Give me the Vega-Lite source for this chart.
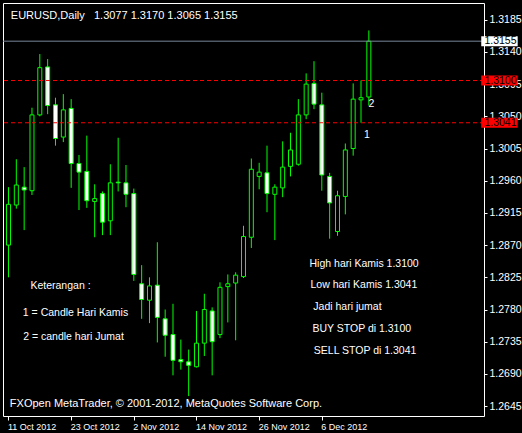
{
  "$schema": "https://vega.github.io/schema/vega-lite/v6.json",
  "width": 481,
  "height": 413,
  "autosize": "none",
  "padding": {"left": 3, "top": 3, "right": 38, "bottom": 17},
  "background": "#000000",
  "config": {
    "view": {"stroke": "#ffffff", "strokeWidth": 1},
    "axis": {
      "labelColor": "#ffffff",
      "tickColor": "#ffffff",
      "labelFont": "Liberation Sans Narrow, Liberation Sans, sans-serif",
      "labelFontSize": 10.5,
      "labelOverlap": false,
      "labelFlush": false,
      "labelBound": false,
      "domain": false,
      "grid": false,
      "title": null,
      "zindex": 0
    }
  },
  "datasets": {
    "candles": [
      {"bar": 0, "date": "2012-10-11", "open": 1.2870, "high": 1.2951, "low": 1.2825, "close": 1.2927},
      {"bar": 1, "date": "2012-10-12", "open": 1.2926, "high": 1.2990, "low": 1.2921, "close": 1.2954},
      {"bar": 2, "date": "2012-10-15", "open": 1.2951, "high": 1.2979, "low": 1.2891, "close": 1.2947},
      {"bar": 3, "date": "2012-10-16", "open": 1.2946, "high": 1.3062, "low": 1.2940, "close": 1.3052},
      {"bar": 4, "date": "2012-10-17", "open": 1.3052, "high": 1.3137, "low": 1.3050, "close": 1.3118},
      {"bar": 5, "date": "2012-10-18", "open": 1.3119, "high": 1.3130, "low": 1.3053, "close": 1.3065},
      {"bar": 6, "date": "2012-10-19", "open": 1.3066, "high": 1.3076, "low": 1.3009, "close": 1.3019},
      {"bar": 7, "date": "2012-10-22", "open": 1.3021, "high": 1.3081, "low": 1.3014, "close": 1.3059},
      {"bar": 8, "date": "2012-10-23", "open": 1.3061, "high": 1.3074, "low": 1.2950, "close": 1.2984},
      {"bar": 9, "date": "2012-10-24", "open": 1.2984, "high": 1.2996, "low": 1.2919, "close": 1.2972},
      {"bar": 10, "date": "2012-10-25", "open": 1.2973, "high": 1.3023, "low": 1.2922, "close": 1.2932},
      {"bar": 11, "date": "2012-10-26", "open": 1.2931, "high": 1.2955, "low": 1.2881, "close": 1.2935},
      {"bar": 12, "date": "2012-10-29", "open": 1.2942, "high": 1.2945, "low": 1.2884, "close": 1.2902},
      {"bar": 13, "date": "2012-10-30", "open": 1.2904, "high": 1.2983, "low": 1.2884, "close": 1.2957},
      {"bar": 14, "date": "2012-10-31", "open": 1.2958, "high": 1.3020, "low": 1.2945, "close": 1.2957},
      {"bar": 15, "date": "2012-11-01", "open": 1.2957, "high": 1.2982, "low": 1.2923, "close": 1.2941},
      {"bar": 16, "date": "2012-11-02", "open": 1.2942, "high": 1.2949, "low": 1.2820, "close": 1.2829},
      {"bar": 17, "date": "2012-11-05", "open": 1.2816, "high": 1.2842, "low": 1.2767, "close": 1.2794},
      {"bar": 18, "date": "2012-11-06", "open": 1.2793, "high": 1.2825, "low": 1.2761, "close": 1.2813},
      {"bar": 19, "date": "2012-11-07", "open": 1.2814, "high": 1.2874, "low": 1.2734, "close": 1.2769},
      {"bar": 20, "date": "2012-11-08", "open": 1.2767, "high": 1.2780, "low": 1.2714, "close": 1.2744},
      {"bar": 21, "date": "2012-11-09", "open": 1.2745, "high": 1.2788, "low": 1.2688, "close": 1.2709},
      {"bar": 22, "date": "2012-11-12", "open": 1.2710, "high": 1.2738, "low": 1.2696, "close": 1.2707},
      {"bar": 23, "date": "2012-11-13", "open": 1.2707, "high": 1.2724, "low": 1.2659, "close": 1.2702},
      {"bar": 24, "date": "2012-11-14", "open": 1.2700, "high": 1.2778, "low": 1.2699, "close": 1.2733},
      {"bar": 25, "date": "2012-11-15", "open": 1.2733, "high": 1.2802, "low": 1.2715, "close": 1.2780},
      {"bar": 26, "date": "2012-11-16", "open": 1.2778, "high": 1.2783, "low": 1.2688, "close": 1.2735},
      {"bar": 27, "date": "2012-11-19", "open": 1.2745, "high": 1.2818, "low": 1.2740, "close": 1.2811},
      {"bar": 28, "date": "2012-11-20", "open": 1.2812, "high": 1.2829, "low": 1.2762, "close": 1.2816},
      {"bar": 29, "date": "2012-11-21", "open": 1.2817, "high": 1.2832, "low": 1.2737, "close": 1.2828},
      {"bar": 30, "date": "2012-11-22", "open": 1.2826, "high": 1.2897, "low": 1.2824, "close": 1.2882},
      {"bar": 31, "date": "2012-11-23", "open": 1.2881, "high": 1.2991, "low": 1.2866, "close": 1.2976},
      {"bar": 32, "date": "2012-11-26", "open": 1.2966, "high": 1.2985, "low": 1.2948, "close": 1.2972},
      {"bar": 33, "date": "2012-11-27", "open": 1.2971, "high": 1.3009, "low": 1.2916, "close": 1.2942},
      {"bar": 34, "date": "2012-11-28", "open": 1.2941, "high": 1.2955, "low": 1.2877, "close": 1.2951},
      {"bar": 35, "date": "2012-11-29", "open": 1.2950, "high": 1.3015, "low": 1.2937, "close": 1.2979},
      {"bar": 36, "date": "2012-11-30", "open": 1.2980, "high": 1.3027, "low": 1.2966, "close": 1.3003},
      {"bar": 37, "date": "2012-12-03", "open": 1.2983, "high": 1.3074, "low": 1.2981, "close": 1.3052},
      {"bar": 38, "date": "2012-12-04", "open": 1.3052, "high": 1.3110, "low": 1.3046, "close": 1.3095},
      {"bar": 39, "date": "2012-12-05", "open": 1.3096, "high": 1.3127, "low": 1.3060, "close": 1.3067},
      {"bar": 40, "date": "2012-12-06", "open": 1.3066, "high": 1.3083, "low": 1.2946, "close": 1.2968},
      {"bar": 41, "date": "2012-12-07", "open": 1.2966, "high": 1.2971, "low": 1.2879, "close": 1.2929},
      {"bar": 42, "date": "2012-12-10", "open": 1.2889, "high": 1.2946, "low": 1.2883, "close": 1.2939},
      {"bar": 43, "date": "2012-12-11", "open": 1.2938, "high": 1.3012, "low": 1.2913, "close": 1.3003},
      {"bar": 44, "date": "2012-12-12", "open": 1.3005, "high": 1.3096, "low": 1.2995, "close": 1.3074},
      {"bar": 45, "date": "2012-12-13", "open": 1.3073, "high": 1.3100, "low": 1.3041, "close": 1.3076},
      {"bar": 46, "date": "2012-12-14", "open": 1.3077, "high": 1.3170, "low": 1.3065, "close": 1.3155}
    ],
    "levels": [
      {"price": 1.3155, "label": "1.3155", "kind": "bid"},
      {"price": 1.3100, "label": "1.3100", "kind": "hline"},
      {"price": 1.3041, "label": "1.3041", "kind": "hline"}
    ],
    "notes": [
      {"text": "Keterangan :", "bar": 2.8, "price": 1.28086},
      {"text": "1 = Candle Hari Kamis", "bar": 1.83, "price": 1.27714},
      {"text": "2 = candle hari Jumat", "bar": 1.875, "price": 1.27373},
      {"text": "High hari Kamis 1.3100", "bar": 38.43, "price": 1.28396},
      {"text": "Low hari Kamis 1.3041", "bar": 38.55, "price": 1.28100},
      {"text": "Jadi hari jumat", "bar": 38.91, "price": 1.27790},
      {"text": "BUY STOP di 1.3100", "bar": 38.8, "price": 1.27486},
      {"text": "SELL STOP di 1.3041", "bar": 38.98, "price": 1.27177},
      {"text": "1", "bar": 45.38, "price": 1.30200},
      {"text": "2", "bar": 45.96, "price": 1.30632}
    ]
  },
  "layer": [
    {
      "data": {"name": "candles"},
      "mark": {"type": "rule", "color": "#00ff00", "strokeWidth": 1, "clip": true},
      "encoding": {
        "x": {
          "field": "bar",
          "type": "quantitative",
          "scale": {"domain": [-0.0625, 60.0625], "nice": false, "zero": false},
          "axis": {
            "orient": "bottom",
            "values": [0, 8, 16, 24, 32, 40],
            "tickCount": 60,
            "labelExpr": "['11 Oct 2012', '23 Oct 2012', '2 Nov 2012', '14 Nov 2012', '26 Nov 2012', '6 Dec 2012'][round(datum.value / 8)]",
            "labelFont": "Liberation Sans, Arial, sans-serif",
            "labelFontSize": 9,
            "labelAlign": "left",
            "labelBaseline": "top",
            "labelOffset": -1,
            "labelPadding": 2,
            "tickSize": 4
          }
        },
        "y": {
          "field": "low",
          "type": "quantitative",
          "scale": {"domain": [1.263818, 1.320136], "nice": false, "zero": false},
          "axis": {
            "orient": "right",
            "values": [1.2645, 1.269, 1.2735, 1.278, 1.2825, 1.287, 1.2915, 1.296, 1.3005, 1.305, 1.3095, 1.314, 1.3185],
            "tickCount": 40,
            "format": ".4f",
            "tickSize": 3,
            "labelPadding": 2
          }
        },
        "y2": {"field": "high"}
      }
    },
    {
      "data": {"name": "candles"},
      "mark": {"type": "bar", "size": 4, "stroke": "#00ff00", "strokeWidth": 1, "clip": true},
      "encoding": {
        "x": {"field": "bar", "type": "quantitative"},
        "y": {"field": "open", "type": "quantitative"},
        "y2": {"field": "close"},
        "fill": {"condition": {"test": "datum.close < datum.open", "value": "#ffffff"}, "value": "#000000"}
      }
    },
    {
      "data": {"name": "levels"},
      "transform": [{"filter": "datum.kind == 'bid'"}],
      "mark": {"type": "rule", "color": "#778899", "strokeWidth": 1},
      "encoding": {"y": {"field": "price", "type": "quantitative"}}
    },
    {
      "data": {"name": "levels"},
      "transform": [{"filter": "datum.kind == 'hline'"}],
      "mark": {"type": "rule", "color": "#ff0000", "strokeWidth": 1, "strokeDash": [4, 3]},
      "encoding": {"y": {"field": "price", "type": "quantitative"}}
    },
    {
      "data": {"name": "levels"},
      "mark": {"type": "bar", "orient": "horizontal", "size": 10},
      "encoding": {
        "x": {"datum": 60.35},
        "x2": {"datum": 65},
        "y": {"field": "price", "type": "quantitative"},
        "fill": {"condition": {"test": "datum.kind == 'bid'", "value": "#ffffff"}, "value": "#ff0000"}
      }
    },
    {
      "data": {"name": "levels"},
      "mark": {
        "type": "text",
        "align": "left",
        "baseline": "middle",
        "color": "#000000",
        "font": "Liberation Sans Narrow, Liberation Sans, sans-serif",
        "fontSize": 10.5
      },
      "encoding": {
        "x": {"datum": 60.75},
        "y": {"field": "price", "type": "quantitative"},
        "text": {"field": "label"}
      }
    },
    {
      "data": {"name": "notes"},
      "mark": {
        "type": "text",
        "align": "left",
        "baseline": "alphabetic",
        "color": "#ffffff",
        "font": "Liberation Sans, Arial, sans-serif",
        "fontSize": 10.5
      },
      "encoding": {
        "x": {"field": "bar", "type": "quantitative"},
        "y": {"field": "price", "type": "quantitative"},
        "text": {"field": "text"}
      }
    },
    {
      "data": {"values": [{"caption": "EURUSD,Daily\u00a0\u00a0\u00a01.3077 1.3170 1.3065 1.3155"}]},
      "mark": {
        "type": "text",
        "align": "left",
        "baseline": "alphabetic",
        "color": "#ffffff",
        "font": "Liberation Sans Narrow, Liberation Sans, sans-serif",
        "fontSize": 11
      },
      "encoding": {
        "x": {"datum": 0.3},
        "y": {"datum": 1.3186},
        "text": {"field": "caption"}
      }
    },
    {
      "data": {"values": [{"caption": "FXOpen MetaTrader, © 2001-2012, MetaQuotes Software Corp."}]},
      "mark": {
        "type": "text",
        "align": "left",
        "baseline": "alphabetic",
        "color": "#ffffff",
        "font": "Liberation Sans, Arial, sans-serif",
        "fontSize": 11
      },
      "encoding": {
        "x": {"datum": 0.175},
        "y": {"datum": 1.2644},
        "text": {"field": "caption"}
      }
    }
  ]
}
